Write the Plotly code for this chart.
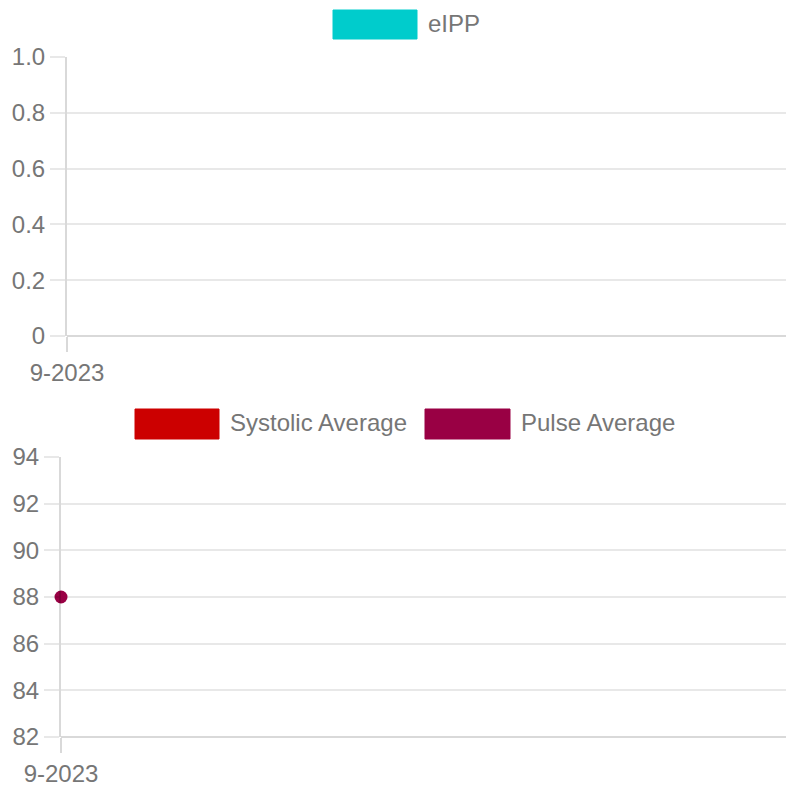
import plotly.graph_objects as go

# ---- data ----
months = ["9-2023"]
eipp = [None]
systolic_avg = [None]
pulse_avg = [88]
top_y_ticks = [0, 0.2, 0.4, 0.6, 0.8, 1.0]
top_y_labels = ["0", "0.2", "0.4", "0.6", "0.8", "1.0"]
bottom_y_ticks = [82, 84, 86, 88, 90, 92, 94]

# ---- style ----
W = H = 786
FONT = "Liberation Sans"
TXT = "#767676"
GRID = "rgba(0,0,0,0.09)"
AXIS = "rgba(0,0,0,0.15)"
C_EIPP = "#00CCCC"
C_SYS = "#CC0000"
C_PULSE = "#990044"

def px_x(v):
    return v / W

def px_y(v):
    return 1 - v / H

fig = go.Figure()
fig.add_trace(go.Scatter(x=months, y=eipp, name="eIPP", mode="lines+markers",
                         line=dict(color=C_EIPP, width=3), marker=dict(color=C_EIPP, size=13),
                         xaxis="x", yaxis="y", cliponaxis=False, showlegend=False))
fig.add_trace(go.Scatter(x=months, y=systolic_avg, name="Systolic Average", mode="lines+markers",
                         line=dict(color=C_SYS, width=3), marker=dict(color=C_SYS, size=13),
                         xaxis="x2", yaxis="y2", cliponaxis=False, showlegend=False))
fig.add_trace(go.Scatter(x=months, y=pulse_avg, name="Pulse Average", mode="lines+markers",
                         line=dict(color=C_PULSE, width=3), marker=dict(color=C_PULSE, size=13),
                         xaxis="x2", yaxis="y2", cliponaxis=False, showlegend=False))

common_x = dict(type="category", categoryorder="array", categoryarray=months,
                range=[0, 1], showgrid=False, showline=False, zeroline=False,
                automargin=False,
                ticks="outside", ticklen=15, tickwidth=2, tickcolor=AXIS,
                tickfont=dict(family=FONT, size=24, color=TXT), fixedrange=True)
common_y = dict(showgrid=True, gridcolor=GRID, gridwidth=2, zeroline=False,
                showline=True, linecolor=AXIS, linewidth=2, automargin=False,
                ticks="outside", ticklen=15, tickwidth=2, tickcolor=GRID,
                tickfont=dict(family=FONT, size=24, color=TXT), fixedrange=True)

fig.update_layout(
    template="none",
    width=W, height=H,
    margin=dict(l=0, r=0, t=0, b=0, pad=0, autoexpand=False),
    paper_bgcolor="white", plot_bgcolor="white",
    showlegend=False,
    xaxis=dict(domain=[px_x(67), 1], anchor="y", **common_x),
    yaxis=dict(domain=[px_y(336), px_y(57)], anchor="x", range=[0, 1],
               tickvals=top_y_ticks, ticktext=top_y_labels, **common_y),
    xaxis2=dict(domain=[px_x(61), 1], anchor="y2", **common_x),
    yaxis2=dict(domain=[px_y(737), px_y(457)], anchor="x2", range=[82, 94],
                tickvals=bottom_y_ticks, **common_y),
)

# bottom (x) axis lines
fig.add_shape(type="line", xref="x domain", yref="y domain", x0=0, x1=1, y0=0, y1=0,
              line=dict(color=AXIS, width=2))
fig.add_shape(type="line", xref="x2 domain", yref="y2 domain", x0=0, x1=1, y0=0, y1=0,
              line=dict(color=AXIS, width=2))

# legends drawn as boxes + labels
def legend_item(x0, x1, y0, y1, color, label):
    fig.add_shape(type="rect", xref="paper", yref="paper",
                  x0=px_x(x0), x1=px_x(x1), y0=px_y(y1), y1=px_y(y0),
                  fillcolor=color, line=dict(color=color, width=1))
    fig.add_annotation(xref="paper", yref="paper", x=px_x(x1 + 9), y=px_y((y0 + y1) / 2 - 1),
                       text=label, showarrow=False, xanchor="left", yanchor="middle",
                       font=dict(family=FONT, size=24, color=TXT))

legend_item(333, 417, 10, 39, C_EIPP, "eIPP")
legend_item(135, 219, 409, 439, C_SYS, "Systolic Average")
legend_item(425, 510, 409, 439, C_PULSE, "Pulse Average")

fig.write_html("out.html", config={"displayModeBar": False},
               post_script="document.body.style.margin='0';document.body.style.padding='0';"
                           "document.body.style.overflow='hidden';")
